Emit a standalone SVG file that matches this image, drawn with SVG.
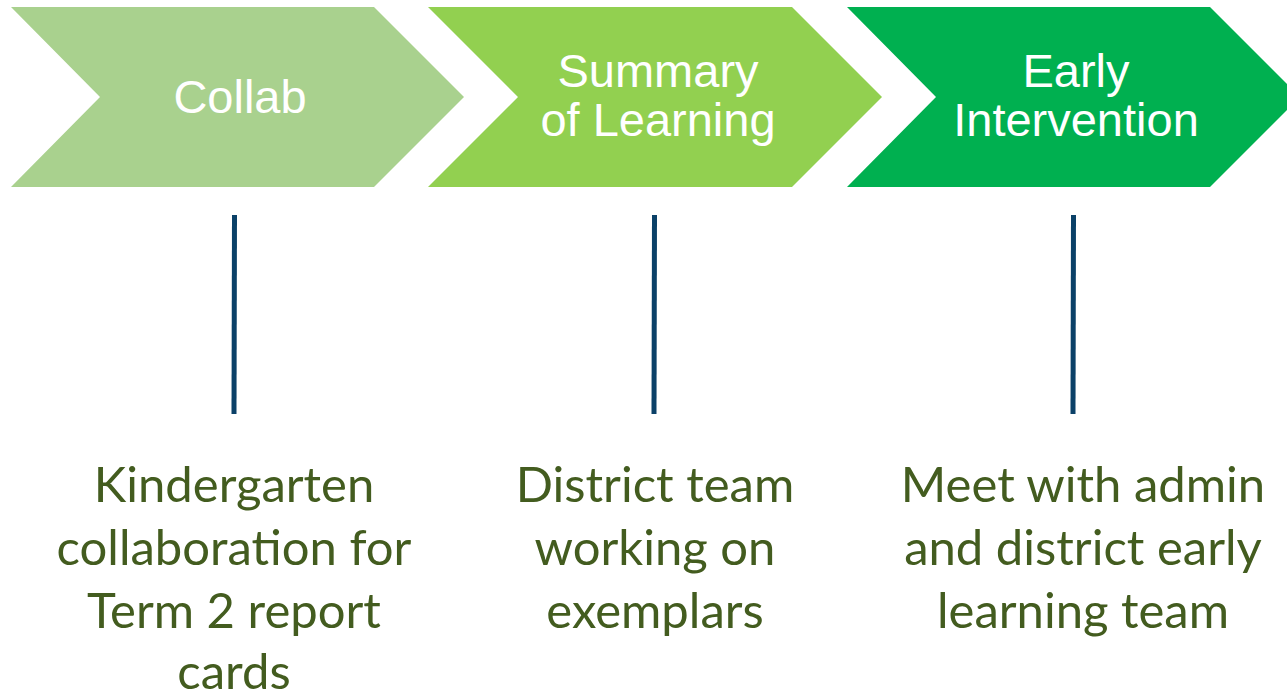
<svg xmlns="http://www.w3.org/2000/svg" width="1287" height="695" viewBox="0 0 1287 695">
  <style>
    .head { font-family: "Liberation Sans", Arial, sans-serif; font-size: 47px; fill: #ffffff; text-anchor: middle; }
    .desc { font-family: Lato, "Carlito", "Noto Sans", sans-serif; font-size: 49px; fill: #435C1F; text-anchor: middle; }
    .stem { stroke: #0B4168; stroke-width: 5; fill: none; }
    .stem-shadow { stroke: #000000; stroke-opacity: 0.12; stroke-width: 7; fill: none; filter: url(#soft); }
  </style>
  <defs>
    <filter id="soft" x="-50%" y="-10%" width="200%" height="120%">
      <feGaussianBlur stdDeviation="1.5"/>
    </filter>
  </defs>
  <rect width="1287" height="695" fill="#ffffff"/>

  <!-- Step 1 -->
  <g id="step-collab">
    <polygon points="11,7 374,7 464,97 374,187 11,187 100,97" fill="#A9D18E"/>
    <text class="head" x="240" y="113">Collab</text>
  </g>

  <!-- Step 2 -->
  <g id="step-summary">
    <polygon points="428,7 792,7 882,97 792,187 428,187 518,97" fill="#92D050"/>
    <text class="head" x="658" y="87">Summary</text>
    <text class="head" x="658" y="136">of Learning</text>
  </g>

  <!-- Step 3 -->
  <g id="step-early">
    <polygon points="847,7 1210,7 1300,97 1210,187 847,187 936,97" fill="#00B050"/>
    <text class="head" x="1076" y="87">Early</text>
    <text class="head" x="1076" y="136">Intervention</text>
  </g>

  <!-- Vertical connectors from each step to its description -->
  <g id="connectors">
    <line class="stem-shadow" x1="235" y1="217" x2="235" y2="416"/>
    <line class="stem" x1="234.5" y1="215" x2="234" y2="414"/>
    <line class="stem-shadow" x1="655" y1="217" x2="655" y2="416"/>
    <line class="stem" x1="654.5" y1="215" x2="654" y2="414"/>
    <line class="stem-shadow" x1="1074" y1="217" x2="1074" y2="416"/>
    <line class="stem" x1="1073.5" y1="215" x2="1073" y2="414"/>
  </g>

  <!-- Descriptions -->
  <g id="desc-collab">
    <text class="desc" x="234" y="502">Kindergarten</text>
    <text class="desc" x="234" y="565">collaboration for</text>
    <text class="desc" x="234" y="628">Term 2 report</text>
    <text class="desc" x="234" y="689">cards</text>
  </g>
  <g id="desc-summary">
    <text class="desc" x="655" y="502">District team</text>
    <text class="desc" x="655" y="565">working on</text>
    <text class="desc" x="655" y="628">exemplars</text>
  </g>
  <g id="desc-early">
    <text class="desc" x="1083" y="502">Meet with admin</text>
    <text class="desc" x="1083" y="565">and district early</text>
    <text class="desc" x="1083" y="628">learning team</text>
  </g>
</svg>
